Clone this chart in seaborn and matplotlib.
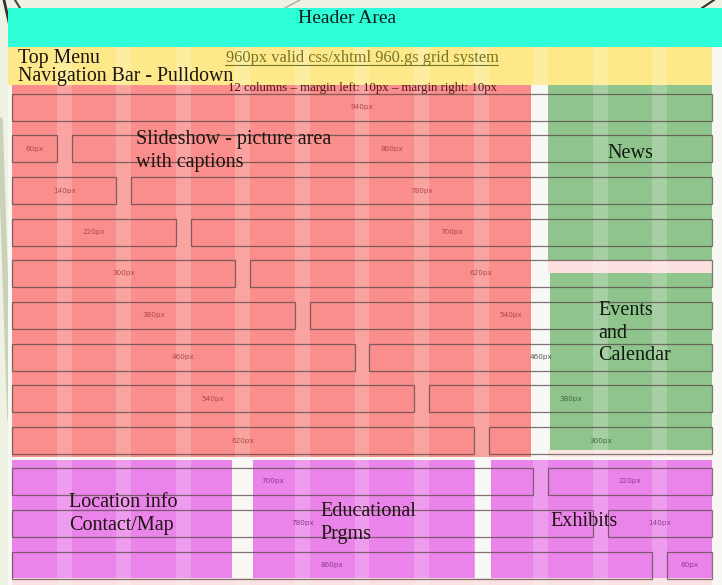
import numpy as np
import matplotlib.pyplot as plt
import seaborn as sns

# --- grid rows of the 960.gs demo (widths in grid px) ---
row_left_px = [940, 60, 140, 220, 300, 380, 460, 540, 620, 700, 780, 860]
row_right_px = [0, 860, 780, 700, 620, 540, 460, 380, 300, 220, 140, 60]
row_y = [107, 148.5, 190.5, 232, 273.5, 315.5, 357, 398.5, 440.5, 481.5, 523.5, 565.5]
GUTTER = 20

# --- page regions ---
region_names = ["Slideshow - picture area\nwith captions", "News", "Events\nand\nCalendar",
                "Location info\nContact/Map", "Educational\nPrgms", "Exhibits"]

sns.set_theme(style="white")
plt.rcParams['font.family'] = ['Liberation Serif', 'DejaVu Serif']

S, X0 = 0.7447, 12.0          # image px per grid px, image x of grid 0


def gx(x):
    return (x - X0) / S


def rect(ax, x0, x1, y0, y1, color, alpha=1.0, z=1):
    ax.barh((y0 + y1) / 2, x1 - x0, left=x0, height=y1 - y0,
            color=color, alpha=alpha, linewidth=0, zorder=z)


fig = plt.figure(figsize=(7.22, 5.85), dpi=100, facecolor='#eef2e2')
ax = fig.add_axes([0, 0, 1, 1])
ax.set_xlim(gx(0), gx(722))
ax.set_ylim(585, 0)
ax.axis('off')

# decorative background strokes (slide theme)
ax.plot([gx(0), gx(10)], [120, 420], color='#c9d2b8', lw=4, zorder=0)
ax.plot([gx(4), gx(13)], [0, 40], color='#333333', lw=2, zorder=0)
ax.plot([gx(15), gx(20)], [0, 8], color='#444444', lw=1.5, zorder=0)
ax.plot([gx(285), gx(300)], [8, 0], color='#aaaaaa', lw=1, zorder=0)
ax.plot([gx(702), gx(714)], [8, 0], color='#333333', lw=1.5, zorder=0)

# base page
rect(ax, gx(8), gx(722), 47, 585, '#f7f7f4', z=1)
rect(ax, gx(8), gx(722), 8, 47, '#2effd8', z=2)
rect(ax, gx(8), 940, 47, 85, '#fde98a', z=2)
rect(ax, 0, gx(531), 85, 457, '#f98e8c', z=2)
rect(ax, 720, 940, 85, 260, '#90c48d', z=2)
rect(ax, 720, 940, 260, 273, '#fde0e0', z=2)
rect(ax, 722, 940, 273, 450, '#90c48d', z=2)
rect(ax, 720, 940, 450, 457, '#fbe6e0', z=2)
rect(ax, 0, gx(232), 460, 578, '#ea84ea', z=2)
rect(ax, gx(253), gx(475), 460, 578, '#ea84ea', z=2)
rect(ax, gx(491), 940, 460, 578, '#ea84ea', z=2)
rect(ax, 0, 940, 578, 585, '#fbe1e1', z=2)

# lighter gutters of the 12 column grid
for k in range(11):
    rect(ax, 60 + 80 * k, 80 + 80 * k, 47, 585, 'white', alpha=0.2, z=3)

# grid boxes with labels
for i, y in enumerate(row_y):
    lw_, rw_ = row_left_px[i], row_right_px[i]
    boxes = [(0, lw_)]
    if rw_:
        boxes.append((lw_ + GUTTER, rw_))
    for left, w in boxes:
        ax.barh(y, w, left=left, height=27, fill=False, edgecolor='#5a4848',
                linewidth=0.9, alpha=0.75, zorder=4)
        cx = left + w / 2
        if y > 460:
            c = '#8e3a8e'
        elif cx > 700 and cx < 720:
            c = '#555555'
        elif cx >= 720:
            c = '#3f6a3f'
        else:
            c = '#b04646'
        ax.text(cx, y, f"{w}px", ha='center', va='center', fontsize=5.2,
                family='DejaVu Sans', color=c, zorder=5)

# titles
dark = '#1e1410'
ax.text(gx(347), 18.5, "Header Area", ha='center', va='center', fontsize=14, color='#102020', zorder=6)
ax.text(gx(18), 59, "Top Menu", ha='left', va='center', fontsize=14.3, color=dark, zorder=6)
ax.text(gx(18), 77, "Navigation Bar - Pulldown", ha='left', va='center', fontsize=14.3, color=dark, zorder=6)
ax.text(gx(362), 58.5, "960px valid css/xhtml 960.gs grid system", ha='center', va='center',
        fontsize=11.8, color='#76762a', zorder=6)
ax.plot([gx(225), gx(498)], [65, 65], color='#76762a', lw=0.8, zorder=6)
ax.text(gx(362), 88.5, "12 columns \u2013 margin left: 10px \u2013 margin right: 10px", ha='center',
        va='center', fontsize=9.2, color='#4a1818', zorder=6)

txt = dict(fontsize=14.5, color=dark, zorder=6, linespacing=1.22)
ax.text(gx(136), 151, region_names[0], ha='left', va='center', **txt)
ax.text(gx(630), 154, region_names[1], ha='center', va='center', fontsize=14.5,
        color='#0e1a0e', zorder=6)
ax.text(gx(598), 333, region_names[2], ha='left', va='center', fontsize=14.5,
        color='#0e1a0e', zorder=6, linespacing=1.22)
ax.text(gx(69), 514, region_names[3], ha='left', va='center', **txt)
ax.text(gx(320), 523, region_names[4], ha='left', va='center', **txt)
ax.text(gx(550), 522, region_names[5], ha='left', va='center', **txt)

fig.savefig('out.png', dpi=100, facecolor=fig.get_facecolor())
